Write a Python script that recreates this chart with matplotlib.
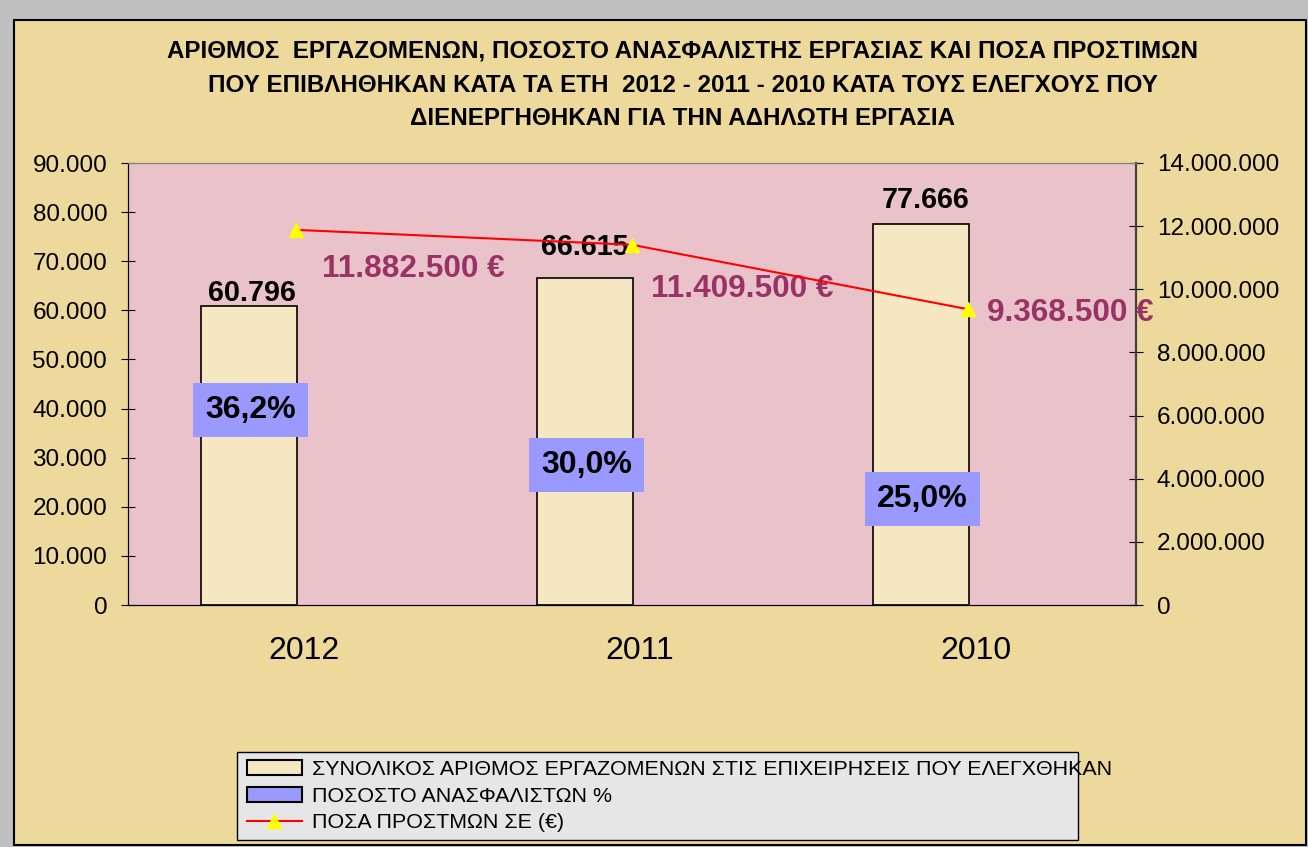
import matplotlib
matplotlib.use("Agg")
import numpy as np
import matplotlib.pyplot as plt
import matplotlib.transforms as mtransforms
from matplotlib.patches import Rectangle, Patch
from matplotlib.lines import Line2D
from matplotlib.ticker import FuncFormatter

plt.rcParams['font.family'] = ['Liberation Sans', 'DejaVu Sans']

# datas
years = ['2012', '2011', '2010']
workers = [60796, 66615, 77666]
uninsured_pct = [36.2, 30.0, 25.0]
fines = [11882500, 11409500, 9368500]

title = ("ΑΡΙΘΜΟΣ  ΕΡΓΑΖΟΜΕΝΩΝ, ΠΟΣΟΣΤΟ ΑΝΑΣΦΑΛΙΣΤΗΣ ΕΡΓΑΣΙΑΣ ΚΑΙ ΠΟΣΑ ΠΡΟΣΤΙΜΩΝ\n"
         "ΠΟΥ ΕΠΙΒΛΗΘΗΚΑΝ ΚΑΤΑ ΤΑ ΕΤΗ  2012 - 2011 - 2010 ΚΑΤΑ ΤΟΥΣ ΕΛΕΓΧΟΥΣ ΠΟΥ\n"
         "ΔΙΕΝΕΡΓΗΘΗΚΑΝ ΓΙΑ ΤΗΝ ΑΔΗΛΩΤΗ ΕΡΓΑΣΙΑ")
legend_labels = ["ΣΥΝΟΛΙΚΟΣ ΑΡΙΘΜΟΣ ΕΡΓΑΖΟΜΕΝΩΝ ΣΤΙΣ ΕΠΙΧΕΙΡΗΣΕΙΣ ΠΟΥ ΕΛΕΓΧΘΗΚΑΝ",
                 "ΠΟΣΟΣΤΟ ΑΝΑΣΦΑΛΙΣΤΩΝ %",
                 "ΠΟΣΑ ΠΡΟΣΤΜΩΝ ΣΕ (€)"]

# layout (label placement only)
pct_label_y = [39700, 28500, 21600]
value_label_offsets = [(2, 10), (0, 22), (3, 17)]
fine_label_offsets = [(19, -28), (14, -32), (14, -3)]

# colours
papyrus = '#EDD99C'
pink = '#EAC2CA'
bar_fill = '#F5E7C2'
blue = '#9999FF'
purple = '#993366'


def dotted(v, pos=None):
    return f"{v:,.0f}".replace(',', '.')


fig = plt.figure(figsize=(13.08, 8.47), dpi=100, facecolor='#C0C0C0')
fig.patches.append(Rectangle((14 / 1308, 2 / 847), 1292 / 1308, 825 / 847,
                             transform=fig.transFigure, facecolor=papyrus,
                             edgecolor='black', lw=1.5, zorder=-10))

ax = fig.add_axes([128 / 1308, 1 - 605 / 847, 1008 / 1308, 442 / 847])
ax.set_facecolor(pink)
ax2 = ax.twinx()

x = np.arange(len(years))
bar_w = 0.286
bar_x = x - 0.14

# bars
ax.bar(bar_x, workers, bar_w, color=bar_fill, edgecolor='black', lw=1.2, zorder=2)
for xi, w, off in zip(bar_x, workers, value_label_offsets):
    ax.annotate(dotted(w), (xi, w), xytext=off, textcoords='offset points',
                ha='center', va='center', fontsize=20.7, fontweight='bold')
for xi, p, yy in zip(bar_x, uninsured_pct, pct_label_y):
    ax.text(xi + 0.005, yy, f"{p:.1f}%".replace('.', ','), ha='center', va='center',
            fontsize=23, fontweight='bold', zorder=5,
            bbox=dict(boxstyle='square,pad=0.38', facecolor=blue, edgecolor='none'))

ax.set_xlim(-0.5, 2.5)
ax.set_ylim(0, 90000)
ax.set_yticks(np.arange(0, 90001, 10000))
ax.yaxis.set_major_formatter(FuncFormatter(dotted))
ax.set_xticks(x)
ax.set_xticklabels(years)
ax.tick_params(axis='x', length=0, pad=22, labelsize=23)
ax.tick_params(axis='y', direction='inout', length=10, pad=10, labelsize=17.5)
shift = mtransforms.ScaledTranslation(8 / 100, 0, fig.dpi_scale_trans)
for lbl in ax.get_xticklabels():
    lbl.set_transform(lbl.get_transform() + shift)

# line
ax2.plot(x, fines, color='red', lw=1.5, marker='^', ms=10,
         mfc='yellow', mec='yellow', zorder=4)
for lx, f, off in zip(x, fines, fine_label_offsets):
    ax2.annotate(dotted(f) + " €", (lx, f), xytext=off, textcoords='offset points',
                 ha='left', va='center', fontsize=22.7, fontweight='bold', color=purple)
ax2.set_ylim(0, 14000000)
ax2.set_yticks(np.arange(0, 14000001, 2000000))
ax2.yaxis.set_major_formatter(FuncFormatter(dotted))
ax2.tick_params(axis='y', direction='inout', length=10, pad=10, labelsize=17.5)

# styling
for a in (ax, ax2):
    a.spines['top'].set_color('#808080')
    a.spines['left'].set_color('black')
    a.spines['right'].set_color('#404040')
    a.spines['bottom'].set_color('black')
    a.spines['right'].set_linewidth(1.5)

fig.text(0.522, 1 - 85 / 847, title, ha='center', va='center', fontsize=17.4,
         fontweight='bold', linespacing=1.6)

# legend box (text runs past its right edge, as in the original)
fig.patches.append(Rectangle((237 / 1308, 1 - 840 / 847), 841 / 1308, 88 / 847,
                             transform=fig.transFigure, facecolor='#E6E6E6',
                             edgecolor='black', lw=1, zorder=-5))
handles = [Patch(facecolor=bar_fill, edgecolor='black', lw=1.5),
           Patch(facecolor=blue, edgecolor='black', lw=1.5),
           Line2D([0], [0], color='red', lw=1.5, marker='^', ms=10,
                  mfc='yellow', mec='yellow')]
leg = fig.legend(handles, legend_labels, loc='lower left',
                 bbox_to_anchor=(237 / 1308, 1 - 842 / 847), fontsize=15.4,
                 frameon=False, handlelength=2.6, handletextpad=0.45,
                 labelspacing=0.36, borderpad=0.45, borderaxespad=0)

fig.savefig('out.png', dpi=100, facecolor=fig.get_facecolor())
